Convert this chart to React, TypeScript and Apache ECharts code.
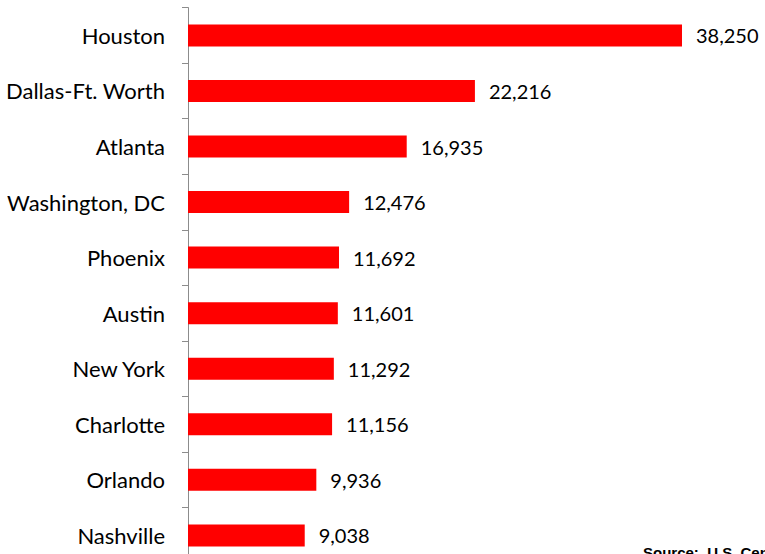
import React, { useEffect, useRef } from "react";
import * as echarts from "echarts";

const categories = [
  "Houston",
  "Dallas-Ft. Worth",
  "Atlanta",
  "Washington, DC",
  "Phoenix",
  "Austin",
  "New York",
  "Charlotte",
  "Orlando",
  "Nashville",
];
const values = [38250, 22216, 16935, 12476, 11692, 11601, 11292, 11156, 9936, 9038];
const sourceText = "Source:  U.S. Census Bureau";

export default function App() {
  const ref = useRef<HTMLDivElement>(null);
  useEffect(() => {
    if (!ref.current) return;
    const chart = echarts.init(ref.current, null, { renderer: "svg" });
    chart.setOption({
      animation: false,
      grid: { left: 188, right: 60.4, top: 7.6, bottom: 36.8, containLabel: false },
      xAxis: {
        type: "value",
        min: 0,
        max: 40000,
        show: false,
      },
      yAxis: {
        type: "category",
        data: categories,
        inverse: true,
        axisLine: { show: true, lineStyle: { color: "#8c8c8c", width: 1 } },
        axisTick: { show: true, length: 6, lineStyle: { color: "#8c8c8c" } },
        axisLabel: {
          margin: 23,
          color: "#000",
          fontFamily: "Lato",
          fontSize: 22,
        },
      },
      series: [
        {
          type: "bar",
          data: values,
          barWidth: 22,
          itemStyle: { color: "#ff0000" },
          label: {
            show: true,
            position: "right",
            distance: 14,
            color: "#000",
            fontFamily: "Lato",
            fontSize: 20,
            formatter: (p: any) => Number(p.value).toLocaleString("en-US"),
          },
        },
      ],
      graphic: [
        {
          type: "text",
          left: 643,
          top: 545,
          style: {
            text: sourceText,
            font: "bold 15px 'Liberation Sans', Arial, sans-serif",
            fill: "#000",
          },
        },
      ],
    });
    return () => chart.dispose();
  }, []);
  return (
    <div style={{ position: "fixed", left: 0, top: 0, width: 765, height: 554, overflow: "hidden", background: "#fff" }}>
      <div ref={ref} style={{ width: 765, height: 600 }} />
    </div>
  );
}
